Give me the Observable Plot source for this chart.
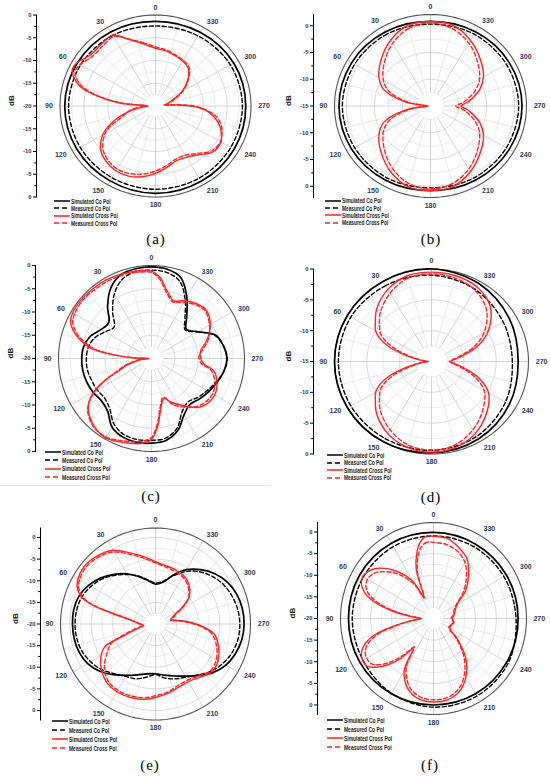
<!DOCTYPE html>
<html><head><meta charset="utf-8">
<script src="https://cdn.jsdelivr.net/npm/d3@7"></script>
<script src="https://cdn.jsdelivr.net/npm/@observablehq/plot@0.6"></script>
<style>
body{margin:0;background:#fff;}
#root{position:relative;width:550px;height:776px;overflow:hidden;font-family:"Liberation Sans",Arial,sans-serif;}
.panel{position:absolute;}
.cap{position:absolute;font:15px "Liberation Serif","Times New Roman",serif;letter-spacing:1px;transform:translate(-50%,-50%);color:#000;}
</style></head><body><div id="root"></div>
<script>
// ---------- categories / tick labels ----------
const angleLabels = [0,30,60,90,120,150,180,210,240,270,300,330];
const legendLabels = ["Simulated Co Pol","Measured Co Pol","Simulated Cross Pol","Measured Cross Pol"];
const captions = ["(a)","(b)","(c)","(d)","(e)","(f)"];
const ANG30 = [0,30,60,90,120,150,180,210,240,270,300,330];
const ANG10 = [0,10,20,30,40,50,60,70,80,90,100,110,120,130,140,150,160,170,180,190,200,210,220,230,240,250,260,270,280,290,300,310,320,330,340,350];

// ---------- panel (a) ----------
const aSimCo  = [-1.4,-1.2,-1.1,-1.0,-1.0,-1.0,-0.8,-0.9,-1.0,-1.1,-1.1,-1.3];
const aMeasCo = [-2.4,-2.1,-1.9,-1.8,-1.8,-1.8,-1.7,-1.7,-1.8,-1.8,-1.9,-2.2];
const angAX = [0,10,20,30,40,50,60,65,70,75,80,85,90,95,100,105,110,115,120,130,140,150,160,170,180,190,200,210,220,230,240,250,255,260,265,270,273,276,280,290,300,310,320,330,340,350];
const aSimX  = [-7.3,-6.2,-4.5,-2.0,-2.3,-2.4,-1.0,-0.8,-1.8,-3.8,-7.8,-12.5,-18.5,-17.3,-15.2,-13.1,-11.0,-8.9,-7.2,-5.0,-4.0,-3.5,-3.6,-4.2,-5.2,-6.3,-7.2,-7.0,-6.0,-4.3,-4.2,-5.5,-6.5,-7.8,-9.5,-12.5,-15.5,-18.2,-17.8,-16.3,-13.6,-11.2,-9.3,-8.6,-8.2,-7.7];
const aMeasX = [-7.0,-5.9,-4.4,-2.4,-2.8,-2.9,-1.8,-1.5,-2.4,-4.4,-8.2,-13.0,-17.8,-16.4,-14.6,-13.6,-12.2,-9.6,-7.8,-5.6,-4.5,-4.0,-4.2,-4.8,-5.7,-6.7,-7.6,-7.5,-6.4,-4.7,-4.3,-5.2,-6.0,-7.2,-9.2,-12.0,-15.0,-17.6,-17.2,-15.8,-13.3,-11.0,-9.0,-8.4,-8.0,-7.5];

// ---------- panel (b) ----------
const bSimCo  = [0.8,1.0,1.2,1.3,1.2,1.0,0.8,1.0,1.2,1.3,1.2,1.0];
const bMeasCo = [0.3,0.5,0.6,0.7,0.6,0.5,0.3,0.5,0.6,0.7,0.6,0.5];
const angBX = [0,15,30,45,60,70,80,85,90,95,100,110,120,135,150,165,180,195,210,225,240,250,260,265,270,275,280,290,300,315,330,345];
const bSimX  = [0.8,0.6,-0.8,-2.6,-4.4,-6.2,-10.3,-13.8,-14.6,-13.8,-10.3,-6.2,-4.4,-2.6,-0.8,0.6,0.8,0.6,-0.8,-2.5,-4.1,-5.6,-7.6,-8.6,-9.6,-8.6,-7.6,-5.6,-4.1,-2.5,-0.8,0.6];
const bMeasX = [0.5,0.0,-1.5,-3.4,-5.3,-7.2,-11.0,-13.9,-14.5,-13.9,-11.0,-7.2,-5.3,-3.4,-1.5,0.0,0.5,0.0,-1.4,-3.2,-4.9,-6.5,-8.5,-9.5,-10.5,-9.5,-8.5,-6.5,-4.9,-3.2,-1.4,0.0];

// ---------- panel (c) ----------
const cSimCo  = [-0.3,-0.4,-0.8,-2.5,-5.3,-8.0,-7.5,-6.0,-5.2,-5.0,-5.0,-5.2,-5.5,-5.9,-5.3,-3.0,-2.0,-1.7,-1.8,-2.1,-3.5,-6.0,-7.1,-6.5,-5.8,-5.0,-4.2,-3.8,-4.3,-5.3,-8.5,-10.2,-8.2,-4.8,-1.5,-0.5];
const cMeasCo = [-1.0,-1.0,-1.8,-4.0,-7.0,-9.5,-8.5,-7.0,-6.2,-6.0,-6.0,-6.3,-6.5,-6.8,-6.0,-3.8,-2.6,-2.3,-2.4,-2.6,-4.0,-6.8,-7.8,-7.0,-6.2,-5.2,-4.2,-3.7,-4.3,-5.5,-8.5,-10.5,-8.8,-5.5,-2.3,-1.2];
const angCX = [0,10,20,30,40,50,60,65,70,75,80,84,88,91,95,100,105,110,115,120,125,130,140,150,160,170,175,180,185,190,197,205,213,225,238,249,259,264,272,279,288,300,311,320,331,339,347,354];
const cSimX  = [-1.2,-0.9,-0.7,-0.5,-0.4,-0.3,-0.4,-0.8,-2.0,-4.0,-6.5,-11.0,-16.0,-19.5,-18.0,-16.5,-14.5,-12.8,-9.0,-5.8,-3.6,-2.3,-0.9,-0.3,-0.9,-1.4,-1.8,-2.6,-5.2,-8.7,-11.0,-9.5,-8.0,-5.2,-4.3,-4.9,-6.4,-8.7,-9.5,-9.3,-7.5,-5.4,-4.3,-4.7,-5.8,-6.7,-5.1,-2.5];
const cMeasX = [-1.5,-1.2,-1.0,-0.9,-0.8,-0.6,-0.9,-1.3,-2.6,-4.6,-7.2,-11.5,-16.5,-19.0,-17.5,-16.0,-14.0,-12.2,-9.2,-6.0,-3.6,-2.1,-0.7,-0.5,-1.2,-1.8,-2.2,-3.0,-5.8,-9.3,-11.3,-9.0,-7.6,-5.6,-4.8,-5.4,-7.0,-9.2,-9.8,-9.0,-7.2,-5.6,-4.6,-5.0,-6.2,-7.0,-5.5,-2.9];

// ---------- panel (d) ----------
const dSimCo  = [0,0,0,0,0,0,-0.2,-0.5,-1.1,-1.6,-1.1,-0.4];
const dMeasCo = [-1.0,-0.8,-0.6,-0.6,-0.6,-0.6,-0.6,-1.0,-1.8,-2.5,-2.2,-1.5];
const angDX = [0,15,30,45,55,60,65,70,75,80,85,90,95,100,105,110,115,120,125,135,150,165,180,195,210,225,240,250,260,265,270,275,280,290,300,315,330,345];
const dSimX  = [-0.5,-0.6,-1.5,-3.0,-4.4,-5.0,-6.2,-8.0,-10.5,-12.5,-13.8,-14.5,-13.8,-12.5,-10.5,-8.0,-6.2,-5.0,-4.4,-3.0,-1.5,-0.6,-0.3,-0.6,-1.5,-3.0,-4.8,-7.2,-10.3,-11.5,-12.0,-11.5,-10.3,-7.2,-4.8,-2.2,-1.0,-0.6];
const dMeasX = [-0.8,-1.0,-2.2,-3.8,-5.2,-5.9,-7.2,-9.0,-11.3,-13.0,-14.0,-14.4,-14.0,-13.0,-11.3,-9.0,-7.2,-5.9,-5.2,-3.8,-2.2,-1.0,-0.6,-1.0,-2.2,-3.8,-5.6,-8.0,-10.8,-11.8,-12.2,-11.8,-10.8,-8.0,-5.6,-3.0,-1.6,-1.0];

// ---------- panel (e) ----------
const eSimCo  = [-10.8,-9.8,-8.3,-6.6,-5.0,-3.4,-2.0,-1.0,-0.6,-0.6,-0.7,-1.0,-1.7,-3.0,-4.7,-6.3,-7.5,-8.3,-8.5,-8.0,-7.2,-6.1,-4.5,-2.5,-1.0,-0.1,0.5,0.7,0.6,0.2,-0.6,-1.9,-3.6,-5.5,-8.0,-10.2];
const eMeasCo = [-10.5,-9.6,-8.2,-6.8,-5.3,-3.8,-2.6,-1.7,-1.3,-1.2,-1.3,-1.7,-2.5,-3.6,-5.0,-6.0,-6.5,-7.5,-8.3,-7.3,-6.5,-5.8,-4.6,-3.0,-1.8,-0.9,-0.4,-0.3,-0.5,-1.0,-1.7,-2.8,-4.2,-6.0,-8.2,-10.0];
const angEX = [0,10,20,30,38,50,60,65,70,73,76,80,90,97,103,110,114,120,130,140,150,160,170,180,190,200,210,220,230,240,250,260,266,272,278,285,290,295,300,305,310,320,330,340,350];
const eSimX  = [-5.6,-4.2,-2.5,-0.3,0.6,1.3,0.9,0.2,-1.5,-4.0,-9.0,-13.5,-16.5,-17.2,-16.0,-12.2,-7.0,-5.3,-3.5,-2.3,-1.9,-2.0,-2.3,-3.0,-3.7,-4.4,-4.6,-3.9,-2.8,-3.1,-4.3,-6.0,-8.5,-11.5,-14.3,-16.4,-15.9,-15.2,-13.3,-11.3,-9.6,-7.9,-7.0,-6.6,-6.3];
const eMeasX = [-5.9,-4.6,-2.9,-0.8,0.2,0.9,0.5,-0.2,-1.9,-4.5,-9.5,-13.8,-16.2,-16.8,-15.2,-11.0,-8.5,-7.0,-4.4,-2.8,-2.3,-2.4,-2.7,-3.4,-4.0,-4.8,-5.0,-4.3,-3.2,-3.6,-4.8,-6.6,-9.0,-12.0,-14.6,-16.0,-15.5,-14.8,-13.0,-11.0,-9.8,-8.3,-7.4,-7.0,-6.6];

// ---------- panel (f) ----------
const fSimCo  = [-0.1,0.1,0.3,0.3,0.3,0.1,0.0,0.1,0.2,0.2,0.1,-0.1];
const fMeasCo = [-0.9,-0.8,-0.7,-0.6,-0.6,0.0,0.5,0.7,0.6,-0.3,-0.6,-0.8];
const angFX = [0,5,10,15,20,25,30,40,50,55,60,65,70,75,80,85,90,95,100,105,110,115,120,125,130,135,140,145,150,160,170,180,190,200,210,220,230,240,250,260,270,280,290,300,310,320,330,340,350];
const fSimX  = [-1.0,-0.9,-2.0,-4.5,-8.0,-14.5,-10.0,-5.5,-2.0,-1.0,-0.5,-1.0,-2.5,-5.5,-10.0,-14.5,-17.0,-15.0,-11.0,-5.5,-2.5,-1.0,-0.5,-0.7,-2.5,-5.0,-8.0,-11.5,-6.0,-2.5,-1.0,-0.7,-0.9,-2.0,-4.5,-8.0,-12.5,-15.5,-15.5,-15.2,-15.5,-15.0,-14.5,-13.5,-10.0,-7.0,-4.0,-2.5,-1.2];
const fMeasX = [-2.4,-2.3,-3.2,-5.5,-9.0,-14.8,-11.0,-6.5,-3.2,-2.2,-1.8,-2.2,-3.6,-6.5,-10.8,-15.0,-17.0,-15.2,-11.5,-6.5,-3.5,-2.0,-1.6,-1.8,-3.4,-6.0,-9.0,-12.0,-7.0,-3.2,-1.6,-1.2,-1.4,-2.6,-5.2,-8.8,-13.0,-15.8,-15.6,-15.0,-15.8,-15.2,-14.8,-13.8,-10.8,-7.8,-5.0,-3.4,-2.6];

// ---------- styles ----------
const RED = "#ff2424";
const seriesStyle = [
  {stroke: "#000", strokeWidth: 1.7, dash: null},
  {stroke: "#000", strokeWidth: 1.4, dash: "4,2.5"},
  {stroke: RED, strokeWidth: 1.4, dash: null},
  {stroke: RED, strokeWidth: 1.4, dash: "4,2.5"}
];

const panels = [
  {x0:0, y0:0, H:250, axisX:36, cx:155, cy:105.5, rx:95.5, ry:91, min:-20, max:0,
   series:[[ANG30,aSimCo],[ANG30,aMeasCo],[angAX,aSimX],[angAX,aMeasX]],
   legend:{x:54, y:201, dy:7.4, fs:6.6, sx:0.73}, cap:{x:156, y:239}},
  {x0:275, y0:0, H:250, axisX:313, cx:430, cy:105.5, rx:96, ry:91.5, min:-15, max:2.1,
   series:[[ANG30,bSimCo],[ANG30,bMeasCo],[angBX,bSimX],[angBX,bMeasX]],
   legend:{x:325, y:200.7, dy:7.3, fs:6.6, sx:0.73}, cap:{x:431, y:239}},
  {x0:0, y0:250, H:250, axisX:35, cx:151, cy:358, rx:93, ry:93, min:-20, max:0,
   series:[[ANG10,cSimCo],[ANG10,cMeasCo],[angCX,cSimX],[angCX,cMeasX]],
   legend:{x:45, y:452, dy:8.4, fs:7, sx:0.71}, cap:{x:151, y:496}},
  {x0:275, y0:250, H:250, axisX:313, cx:431, cy:361, rx:97, ry:92.5, min:-15, max:0,
   series:[[ANG30,dSimCo],[ANG30,dMeasCo],[angDX,dSimX],[angDX,dMeasX]],
   legend:{x:327, y:455, dy:7.5, fs:6.8, sx:0.72}, cap:{x:431, y:497}},
  {x0:0, y0:500, H:276, axisX:40, cx:155, cy:623.5, rx:95, ry:96, min:-20, max:2.2,
   series:[[ANG10,eSimCo],[ANG10,eMeasCo],[angEX,eSimX],[angEX,eMeasX]],
   legend:{x:52, y:721, dy:9, fs:7.4, sx:0.67}, cap:{x:150, y:765}},
  {x0:275, y0:500, H:276, axisX:317, cx:433, cy:618, rx:93, ry:96, min:-20, max:2.2,
   series:[[ANG30,fSimCo],[ANG30,fMeasCo],[angFX,fSimX],[angFX,fMeasX]],
   legend:{x:327, y:720, dy:9, fs:7.4, sx:0.67}, cap:{x:430, y:765}}
];

const root = document.getElementById("root");
const rad = a => a * Math.PI / 180;

// faint separator line seen under panel (c)
const sep = document.createElement("div");
sep.style.cssText = "position:absolute;left:0;top:485px;width:270px;height:1px;background:#e4e4e4;";
root.appendChild(sep);

panels.forEach((p, k) => {
  const W = 275, H = p.H;
  const R = p.max - p.min;
  const lcx = p.cx - p.x0, lcy = p.cy - p.y0;
  const X = (a, v) => -Math.max(0, v - p.min) * Math.sin(rad(a));
  const Y = (a, v) => Math.max(0, v - p.min) * Math.cos(rad(a));
  const circ = d3.range(0, 360, 3);
  const gridStart = p.min + 2.5;
  const levels = d3.range(gridStart, p.max - 0.3, 2.5);
  const majorL = levels.filter(L => Math.abs(L % 5) < 1e-6);
  const minorL = levels.filter(L => Math.abs(L % 5) >= 1e-6);
  const ring = Ls => Ls.flatMap(L => circ.map(a => ({a, v: L, L})));
  const spokes = d3.range(0, 360, 15);
  const majorTicks = [];
  for (let t = 0; t <= -p.min + 1e-6; t += 5) { majorTicks.push(t); if (t > 0) majorTicks.push(-t); }
  const minorTicks = [];
  for (let t = 2.5; t <= -p.min; t += 5) { minorTicks.push(t, -t); }

  const marks = [
    Plot.line(ring(minorL), {x: d => X(d.a, d.v), y: d => Y(d.a, d.v), z: "L", curve: "linear-closed", stroke: "#e2e2e2", strokeWidth: 0.7}),
    Plot.line(ring(majorL), {x: d => X(d.a, d.v), y: d => Y(d.a, d.v), z: "L", curve: "linear-closed", stroke: "#cfcfcf", strokeWidth: 0.8}),
    Plot.link(spokes, {x1: a => X(a, gridStart), y1: a => Y(a, gridStart), x2: a => X(a, p.max), y2: a => Y(a, p.max),
      stroke: a => a % 30 === 0 ? "#c8c8c8" : "#e2e2e2", strokeWidth: 0.8}),
    Plot.line(circ.map(a => ({a})), {x: d => X(d.a, p.max), y: d => Y(d.a, p.max), curve: "linear-closed", stroke: "#555", strokeWidth: 1.1})
  ];
  p.series.forEach(([angs, vals], i) => {
    const s = seriesStyle[i];
    const rows = angs.map((a, j) => ({a, v: vals[j]}));
    marks.push(Plot.line(rows, {x: d => X(d.a, d.v), y: d => Y(d.a, d.v), curve: "catmull-rom-closed",
      stroke: s.stroke, strokeWidth: s.strokeWidth, strokeDasharray: s.dash}));
  });
  // left dB axis
  marks.push(
    Plot.frame({anchor: "left", stroke: "#000", strokeWidth: 1}),
    Plot.axisY(majorTicks, {tickSize: 3, tickPadding: 2, stroke: "#000", fill: "#2b3a5c", fontSize: 5.8, fontWeight: "bold",
      tickFormat: v => String(Math.round(Math.abs(v) + p.min)), label: null}),
    Plot.axisY(minorTicks, {tickSize: 1.8, stroke: "#000", tickFormat: () => "", label: null}),
    Plot.text(["dB"], {text: d => d, frameAnchor: "left", dx: -25, rotate: -90, fontWeight: "bold", fontSize: 8, fill: "#111"})
  );
  // angle labels
  const f = 1.075;
  const left = angleLabels.filter(a => a > 0 && a < 180);
  const right = angleLabels.filter(a => a > 180);
  const mid = angleLabels.filter(a => a === 0 || a === 180);
  const lab = {fill: "#2b3a5c", fontSize: 7, fontWeight: "bold", text: a => String(a)};
  marks.push(
    Plot.text(left, {...lab, x: a => X(a, p.min + R * f), y: a => Y(a, p.min + R * f), textAnchor: "end"}),
    Plot.text(right, {...lab, x: a => X(a, p.min + R * f), y: a => Y(a, p.min + R * f), textAnchor: "start"}),
    Plot.text(mid, {...lab, x: a => X(a, p.min + R * 1.085), y: a => Y(a, p.min + R * 1.085), textAnchor: "middle"})
  );

  const chart = Plot.plot({
    width: W, height: H,
    marginLeft: p.axisX - p.x0, marginRight: 10,
    marginTop: lcy - p.ry, marginBottom: H - (lcy + p.ry),
    x: {domain: [-R, R], range: [lcx - p.rx, lcx + p.rx], axis: null},
    y: {domain: [-R, R]},
    style: {fontFamily: '"Liberation Sans", Arial, sans-serif', background: "transparent", overflow: "visible"},
    marks
  });
  const holder = document.createElement("div");
  holder.className = "panel";
  holder.style.left = p.x0 + "px"; holder.style.top = p.y0 + "px";
  holder.appendChild(chart);
  root.appendChild(holder);

  // legend
  legendLabels.forEach((label, i) => {
    const s = seriesStyle[i];
    const row = document.createElement("div");
    row.style.cssText = `position:absolute;left:${p.legend.x}px;top:${p.legend.y + i * p.legend.dy - 4}px;height:8px;display:flex;align-items:center;white-space:nowrap;`;
    row.innerHTML = `<svg width="16" height="8" style="display:block"><line x1="0" y1="4" x2="16" y2="4" stroke="${s.stroke}" stroke-width="1.5" ${s.dash ? 'stroke-dasharray="5,3"' : ""}/></svg>` +
      `<span style="font:bold ${p.legend.fs}px 'Liberation Sans',Arial,sans-serif;color:#222;margin-left:1px;display:inline-block;transform:scaleX(${p.legend.sx});transform-origin:left center;">${label}</span>`;
    root.appendChild(row);
  });
  const cap = document.createElement("div");
  cap.className = "cap";
  cap.style.left = p.cap.x + "px"; cap.style.top = p.cap.y + "px";
  cap.textContent = captions[k];
  root.appendChild(cap);
});
</script></body></html>
